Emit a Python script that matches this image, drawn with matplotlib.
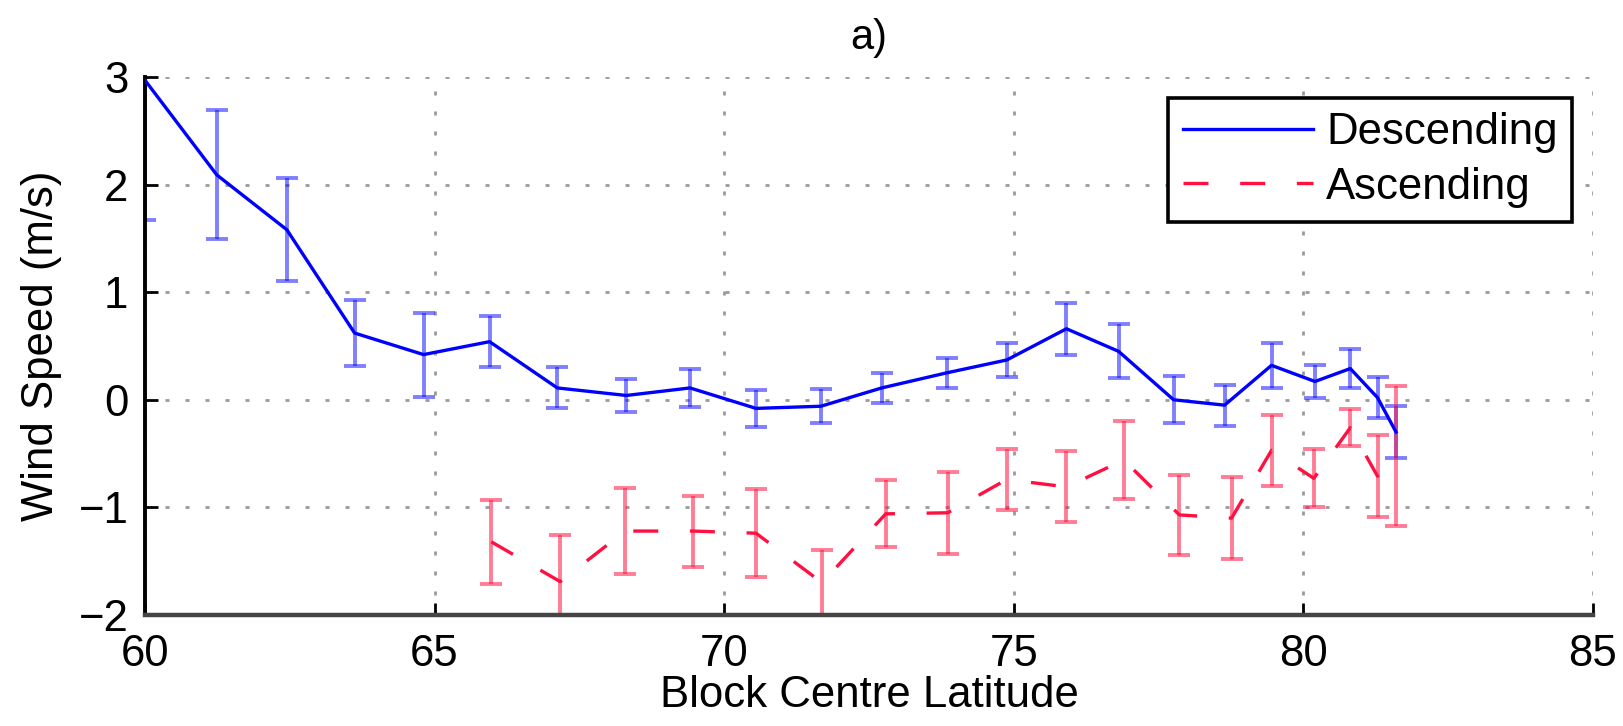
import matplotlib
matplotlib.use('Agg')
import matplotlib.pyplot as plt
import numpy as np

# Descending passes: block centre latitude, mean wind speed, error
desc_lat = [60.0, 61.24, 62.45, 63.62, 64.81, 65.95, 67.12, 68.31, 69.41, 70.55, 71.67, 72.72,
            73.84, 74.88, 75.91, 76.81, 77.76, 78.64, 79.45, 80.2, 80.81, 81.28, 81.6]
desc_speed = [2.97, 2.09, 1.58, 0.62, 0.42, 0.54, 0.11, 0.04, 0.11, -0.08, -0.06, 0.11,
              0.25, 0.37, 0.66, 0.45, 0.0, -0.05, 0.32, 0.17, 0.29, 0.02, -0.3]
desc_err = [1.3, 0.6, 0.48, 0.31, 0.39, 0.24, 0.19, 0.15, 0.18, 0.17, 0.16, 0.14,
            0.14, 0.16, 0.24, 0.25, 0.22, 0.19, 0.21, 0.15, 0.18, 0.19, 0.24]

# Ascending passes
asc_lat = [65.98, 67.17, 68.29, 69.47, 70.55, 71.69, 72.79, 73.86, 74.88, 75.91, 76.9,
           77.86, 78.76, 79.45, 80.18, 80.81, 81.28, 81.6]
asc_speed = [-1.32, -1.69, -1.22, -1.22, -1.24, -1.7, -1.06, -1.05, -0.74, -0.81, -0.56,
             -1.07, -1.1, -0.47, -0.73, -0.26, -0.71, -0.52]
asc_err = [0.39, 0.43, 0.4, 0.33, 0.41, 0.3, 0.31, 0.38, 0.28, 0.33, 0.36,
           0.37, 0.38, 0.33, 0.27, 0.17, 0.38, 0.65]

xticks = [60, 65, 70, 75, 80, 85]
yticks = [-2, -1, 0, 1, 2, 3]

plt.rcParams['font.family'] = ['Liberation Sans', 'DejaVu Sans']
plt.rcParams['font.size'] = 31.5

fig = plt.figure(figsize=(16.23, 7.26), dpi=100)
ax = fig.add_axes([0.0893, 0.1529, 0.8922, 0.7411])

# Pick some colors
blue = '#0000ff'
red = '#ff1040'

# Error bars first, a bit lighter than the lines
ax.errorbar(desc_lat, desc_speed, yerr=desc_err, fmt='none', ecolor=(0, 0, 1, 0.5),
            elinewidth=2.8, capsize=8, capthick=2.8, zorder=2)
ax.errorbar(asc_lat, asc_speed, yerr=asc_err, fmt='none', ecolor=(1, 0.08, 0.25, 0.55),
            elinewidth=2.8, capsize=8, capthick=2.8, zorder=2)

line1, = ax.plot(desc_lat, desc_speed, '-', color=blue, linewidth=2.4, label='Descending', zorder=3)
line2, = ax.plot(asc_lat, asc_speed, color=red, linewidth=2.4, dashes=(7.5, 9.5),
                 label='Ascending', zorder=3)

ax.set_xlim(60, 85)
ax.set_ylim(-2, 3)
ax.set_xticks(xticks)
ax.set_yticks(yticks)

# Dotted grid, MATLAB style
ax.grid(True, color='#9a9a9a', linewidth=2, linestyle=(0, (1.45, 5.75)))
ax.set_axisbelow(True)

for side in ['top', 'right']:
    ax.spines[side].set_visible(False)
ax.spines['left'].set_color('black')
ax.spines['left'].set_linewidth(2.8)
ax.spines['bottom'].set_color('#454545')
ax.spines['bottom'].set_linewidth(3.2)

ax.tick_params(axis='both', direction='in', length=9, width=2, color='black')
ax.tick_params(axis='y', pad=12)
ax.tick_params(axis='x', pad=14)

# Label the axis
ax.set_title('a)', fontsize=30, pad=20)
ax.set_xlabel('Block Centre Latitude', labelpad=0)
ax.set_ylabel('Wind Speed (m/s)', labelpad=12)

# Add a legend
leg = ax.legend(handles=[line1, line2], loc='upper right',
                bbox_to_anchor=(0.9686, 0.865), bbox_transform=fig.transFigure,
                borderaxespad=0, fancybox=False, framealpha=1, edgecolor='black',
                handlelength=2.97, handletextpad=0.3, labelspacing=0.3, borderpad=0.33)
leg.get_frame().set_linewidth(2.6)

fig.savefig('out.png', dpi=100)
